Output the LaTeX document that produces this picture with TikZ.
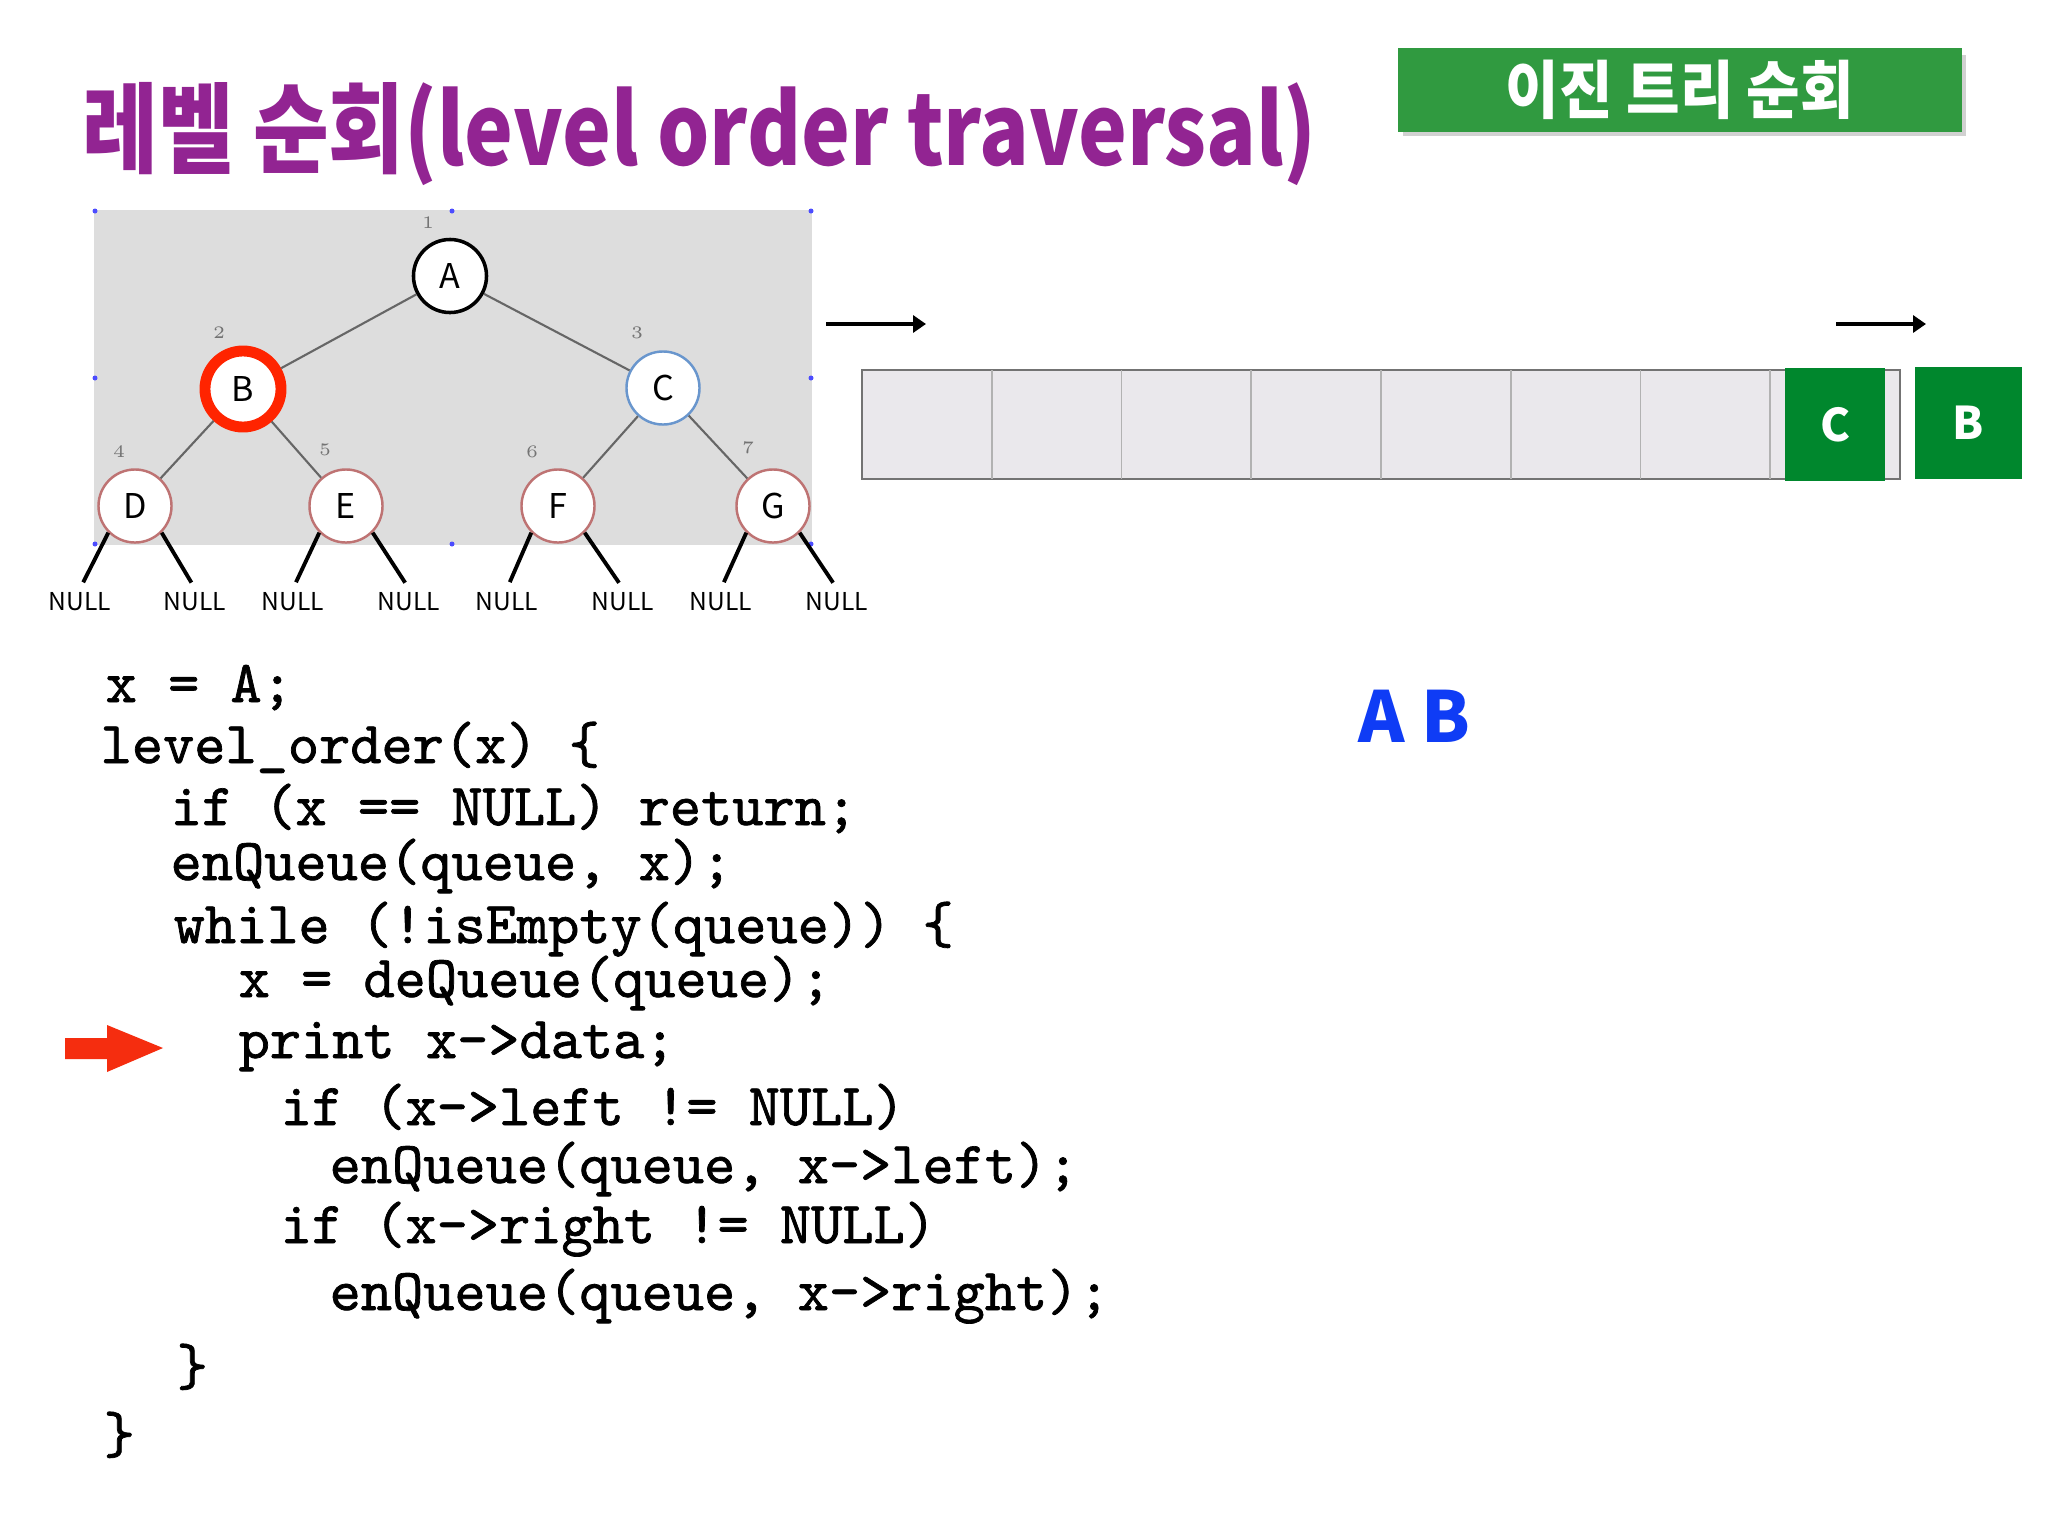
\documentclass[tikz,border=0pt]{standalone}
\usepackage{fontspec}
\usepackage{xcolor}
\usetikzlibrary{arrows.meta}
\newfontfamily\krfont{Noto Sans CJK KR}
\newfontfamily\krnarrow[FakeStretch=0.836]{Noto Sans CJK KR}
\newfontfamily\krbadge[FakeStretch=0.92]{Noto Sans CJK KR}
\newfontfamily\codefont[FakeBold=1.2]{lmmono10-regular.otf}
\definecolor{titlePurple}{RGB}{146, 36, 146}
\definecolor{badgeGreen}{RGB}{48, 154, 64}
\definecolor{cellGreen}{RGB}{0, 135, 45}
\definecolor{imgGray}{RGB}{221, 221, 221}
\definecolor{queueGray}{RGB}{234, 232, 236}
\definecolor{ringRed}{RGB}{255, 36, 0}
\definecolor{ringBlue}{RGB}{105, 150, 205}
\definecolor{ringPink}{RGB}{190, 115, 115}
\definecolor{arrowRed}{RGB}{245, 45, 15}
\definecolor{printBlue}{RGB}{15, 60, 245}

\begin{document}
\begin{tikzpicture}[x=0.01cm, y=-0.01cm,
    treenode/.style={circle, draw, fill=white, minimum size=0.73cm, inner sep=0pt, line width=0.7pt,
      font=\krfont\fontsize{9.7}{11}\selectfont},
    edge/.style={black!60, line width=0.6pt},
    nullline/.style={line width=1.1pt, shorten >=2pt},
    nulltext/.style={font=\krfont\fontsize{7}{8}\selectfont, inner sep=1pt},
    levelnum/.style={font=\fontsize{5}{6}\selectfont, text=black!55},
    qcell/.style={fill=cellGreen, text=white, inner sep=0pt, font=\krfont\bfseries\fontsize{12.8}{14}\selectfont},
    qarrow/.style={line width=1.1pt, -{Triangle[length=0.13cm, width=0.17cm]}},
    code/.style={anchor=base west, inner sep=0pt, font=\codefont\fontsize{16.9}{20}\selectfont}]

    \useasboundingbox[fill=white] (0,0) rectangle (2048,1536);

    % Title
    \node[anchor=base west, inner sep=0pt, text=titlePurple,
      font=\krnarrow\bfseries\fontsize{28}{32}\selectfont] (title) at (82,165) {레벨 순회(level order traversal)};

    \fill[black!18] (1403,55) rectangle (1966,136);
    \node[fill=badgeGreen, minimum width=5.63cm, minimum height=0.81cm, text=white,
      font=\krbadge\bfseries\fontsize{18}{20}\selectfont] (badge) at (1680,90) {이진 트리 순회};

    % Tree picture
    \fill[imgGray] (94,210) rectangle (812,545);
    \foreach \px/\py in {95/211, 452/211, 811/211, 95/378, 811/378, 95/544, 452/544, 811/544}
      \fill[blue!70] (\px,\py) circle (0.025cm);

    \node[treenode, draw=black, line width=1pt] (A) at (450,276) {A};
    \node[treenode, draw=ringRed, line width=3.1pt, minimum size=0.76cm] (B) at (243,389) {B};
    \node[treenode, draw=ringBlue] (C) at (663,388) {C};
    \node[treenode, draw=ringPink] (D) at (135,506) {D};
    \node[treenode, draw=ringPink] (E) at (346,506) {E};
    \node[treenode, draw=ringPink] (F) at (558,506) {F};
    \node[treenode, draw=ringPink] (G) at (773,506) {G};

    \draw[edge] (A) -- (B);
    \draw[edge] (A) -- (C);
    \draw[edge] (B) -- (D);
    \draw[edge] (B) -- (E);
    \draw[edge] (C) -- (F);
    \draw[edge] (C) -- (G);

    \foreach \n/\px/\py in {1/428/223, 2/219/333, 3/637/333, 4/119/452, 5/325/450, 6/532/452, 7/748/448}
      \node[levelnum] (num\n) at (\px,\py) {\n};

    % NULL children
    \foreach \i/\px in {1/80, 2/195, 3/293, 4/409, 5/507, 6/623, 7/721, 8/837}
      \node[nulltext] (null\i) at (\px,602) {NULL};
    \foreach \leaf/\l/\r in {D/1/2, E/3/4, F/5/6, G/7/8} {
      \draw[nullline] (\leaf.225) -- (null\l.north);
      \draw[nullline] (\leaf.315) -- (null\r.north);
    }

    % Queue
    \draw[black!55, fill=queueGray, line width=0.8pt] (862,370) rectangle (1900,479);
    \foreach \i in {1,...,7}
      \draw[black!30, line width=0.5pt] ({862+\i*129.75},370) -- ++(0,109);
    \node[qcell, minimum width=1.0cm, minimum height=1.13cm] (qC) at (1835,424.5) {C};
    \node[qcell, minimum width=1.07cm, minimum height=1.12cm] (qB) at (1968.5,423) {B};

    \coordinate (rearS) at (826,324);
    \coordinate (rearE) at (926,324);
    \coordinate (frontS) at (1836,324);
    \coordinate (frontE) at (1926,324);
    \draw[qarrow] (rearS) -- (rearE);
    \draw[qarrow] (frontS) -- (frontE);

    % Output
    \node[anchor=base west, inner sep=0pt, text=printBlue,
      font=\krfont\bfseries\fontsize{20}{24}\selectfont] (out) at (1358,742) {A B};

    % Code
    \node[code] (c1) at (105,702) {x = A;};
    \node[code] (c2) at (100,763) {level\_order(x) \{};
    \node[code] (c3) at (170,825) {if (x == NULL) return;};
    \node[code] (c4) at (170,880) {enQueue(queue, x);};
    \node[code] (c5) at (173,943) {while (!isEmpty(queue)) \{};
    \node[code] (c6) at (238,997) {x = deQueue(queue);};
    \node[code] (c7) at (238,1058) {print x->data;};
    \node[code] (c8) at (280,1125) {if (x->left != NULL)};
    \node[code] (c9) at (329,1183) {enQueue(queue, x->left);};
    \node[code] (c10) at (280,1243) {if (x->right != NULL)};
    \node[code] (c11) at (329,1310) {enQueue(queue, x->right);};
    \node[code] (c12) at (176,1385) {\}};
    \node[code] (c13) at (103,1453) {\}};

    % Current line
    \fill[arrowRed] (65,1038) -- (107,1038) -- (107,1025) -- (163,1048)
      -- (107,1072) -- (107,1059) -- (65,1059) -- cycle;
\end{tikzpicture}
\end{document}
